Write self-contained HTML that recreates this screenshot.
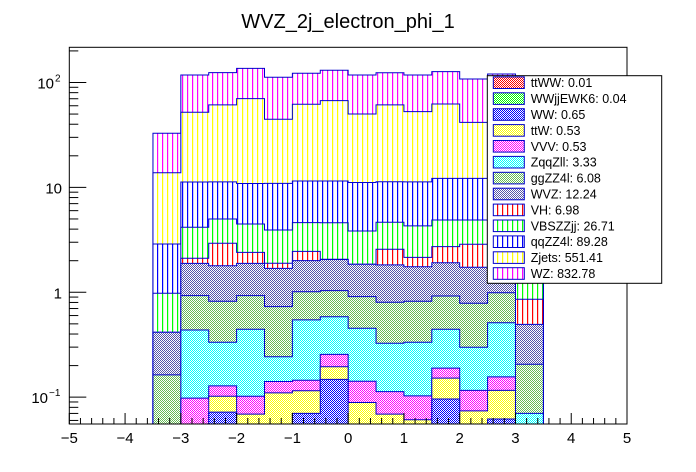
<!DOCTYPE html>
<html><head><meta charset="utf-8"><style>
html,body{margin:0;padding:0;background:#fff;}
svg{display:block;font-family:"Liberation Sans",Arial,sans-serif;}
</style></head><body>
<svg id="chart" width="696" height="472" viewBox="0 0 696 472">
<defs>
<pattern id="chk-red" width="2" height="2" patternUnits="userSpaceOnUse"><rect width="2" height="2" fill="#fff"/><rect width="1" height="1" fill="#ff0000"/><rect x="1" y="1" width="1" height="1" fill="#ff0000"/></pattern>
<pattern id="chk-green" width="2" height="2" patternUnits="userSpaceOnUse"><rect width="2" height="2" fill="#fff"/><rect width="1" height="1" fill="#00ff00"/><rect x="1" y="1" width="1" height="1" fill="#00ff00"/></pattern>
<pattern id="chk-blue" width="2" height="2" patternUnits="userSpaceOnUse"><rect width="2" height="2" fill="#fff"/><rect width="1" height="1" fill="#0000ff"/><rect x="1" y="1" width="1" height="1" fill="#0000ff"/></pattern>
<pattern id="chk-yellow" width="2" height="2" patternUnits="userSpaceOnUse"><rect width="2" height="2" fill="#fff"/><rect width="1" height="1" fill="#ffff00"/><rect x="1" y="1" width="1" height="1" fill="#ffff00"/></pattern>
<pattern id="chk-magenta" width="2" height="2" patternUnits="userSpaceOnUse"><rect width="2" height="2" fill="#fff"/><rect width="1" height="1" fill="#ff00ff"/><rect x="1" y="1" width="1" height="1" fill="#ff00ff"/></pattern>
<pattern id="chk-cyan" width="2" height="2" patternUnits="userSpaceOnUse"><rect width="2" height="2" fill="#fff"/><rect width="1" height="1" fill="#00ffff"/><rect x="1" y="1" width="1" height="1" fill="#00ffff"/></pattern>
<pattern id="chk-ltgreen" width="2" height="2" patternUnits="userSpaceOnUse"><rect width="2" height="2" fill="#fff"/><rect width="1" height="1" fill="#66bb55"/><rect x="1" y="1" width="1" height="1" fill="#66bb55"/></pattern>
<pattern id="chk-violet" width="2" height="2" patternUnits="userSpaceOnUse"><rect width="2" height="2" fill="#fff"/><rect width="1" height="1" fill="#5555aa"/><rect x="1" y="1" width="1" height="1" fill="#5555aa"/></pattern>
<pattern id="vl-red" width="5" height="5" patternUnits="userSpaceOnUse"><rect width="5" height="5" fill="#fff"/><rect x="2" width="1.2" height="5" fill="#ff0000"/></pattern>
<pattern id="vl-green" width="5" height="5" patternUnits="userSpaceOnUse"><rect width="5" height="5" fill="#fff"/><rect x="2" width="1.2" height="5" fill="#00ff00"/></pattern>
<pattern id="vl-blue" width="5" height="5" patternUnits="userSpaceOnUse"><rect width="5" height="5" fill="#fff"/><rect x="2" width="1.2" height="5" fill="#0000ff"/></pattern>
<pattern id="vl-yellow" width="5" height="5" patternUnits="userSpaceOnUse"><rect width="5" height="5" fill="#fff"/><rect x="2" width="1.2" height="5" fill="#ffff00"/></pattern>
<pattern id="vl-magenta" width="5" height="5" patternUnits="userSpaceOnUse"><rect width="5" height="5" fill="#fff"/><rect x="2" width="1.2" height="5" fill="#ff00ff"/></pattern>
<clipPath id="plotclip"><rect x="69.3" y="47.3" width="557.7" height="376.7"/></clipPath>
</defs>
<text x="348" y="28" font-size="20" text-anchor="middle">WVZ_2j_electron_phi_1</text>
<g id="bars" clip-path="url(#plotclip)"></g>
<g id="axes"></g>
<g id="legend"></g>
</svg>
<script>
// ---- data ----
const binEdges = [-3.5,-3,-2.5,-2,-1.5,-1,-0.5,0,0.5,1,1.5,2,2.5,3,3.5];
const layerNames = ["ttWW","WWjjEWK6","WW","ttW","VVV","ZqqZll","ggZZ4l","WVZ","VH","VBSZZjj","qqZZ4l","Zjets","WZ"];
const legendLabels = ["ttWW: 0.01","WWjjEWK6: 0.04","WW: 0.65","ttW: 0.53","VVV: 0.53","ZqqZll: 3.33","ggZZ4l: 6.08","WVZ: 12.24","VH: 6.98","VBSZZjj: 26.71","qqZZ4l: 89.28","Zjets: 551.41","WZ: 832.78"];
const ttWW     = [0,0,0,0,0,0,0,0,0,0,0,0,0,0];
const WWjjEWK6 = [0,0,0,0,0,0,0,0,0,0,0,0,0,0];
const WW       = [0,0,0.072,0,0,0.070,0.148,0,0,0,0.096,0,0.062,0];
const ttW      = [0,0,0.030,0.069,0.110,0.045,0.047,0.089,0.069,0.061,0.056,0.074,0.054,0];
const VVV      = [0,0.098,0.026,0.033,0.031,0.030,0.061,0.053,0.044,0.042,0.037,0.042,0.040,0];
const ZqqZll   = [0,0.339,0.206,0.342,0.102,0.40,0.329,0.312,0.214,0.231,0.255,0.183,0.357,0.070];
const ggZZ4l   = [0.163,0.491,0.487,0.484,0.486,0.468,0.451,0.454,0.476,0.487,0.478,0.486,0.477,0.136];
const WVZ      = [0.253,0.96,0.97,0.96,0.96,0.99,1.02,0.94,1.02,0.93,0.99,0.945,1.0,0.289];
const VH       = [0,0.22,1.14,0.51,0.20,0.45,0.01,0,0.75,0.40,0.81,1.14,0.54,0.363];
const VBSZZjj  = [0.562,2.06,2.07,2.08,2.03,2.16,2.54,1.99,2.08,2.14,2.17,2.02,2.15,0.43];
const qqZZ4l   = [1.91,7.1,6.3,6.4,7.0,6.9,6.9,7.3,6.65,7.0,7.3,7.3,7.1,2.7];
const Zjets    = [10.9,40.7,49.8,59.2,33.7,50.5,55.6,39.0,49.8,41.4,50.2,29.5,49.3,11];
const WZ       = [19.0,65.9,63,66.4,67.5,60.4,63.6,67.8,62.9,65.2,64.4,66.3,59.4,20];
const xTicks = [-5,-4,-3,-2,-1,0,1,2,3,4,5];
const yTickLabels = [{v:0.1,t:"10",e:"\u22121"},{v:1,t:"1",e:""},{v:10,t:"10",e:""},{v:100,t:"10",e:"2"}];

const series = [ttWW,WWjjEWK6,WW,ttW,VVV,ZqqZll,ggZZ4l,WVZ,VH,VBSZZjj,qqZZ4l,Zjets,WZ];
const fills = ["chk-red","chk-green","chk-blue","chk-yellow","chk-magenta","chk-cyan","chk-ltgreen","chk-violet","vl-red","vl-green","vl-blue","vl-yellow","vl-magenta"];

// ---- scales ----
const X0=69.3, X1=627, Y0=47.3, Y1=424;
const xMin=-5, xMax=5, yMin=0.0555, yMax=216.5;
function xs(v){return X0+(v-xMin)/(xMax-xMin)*(X1-X0);}
function ys(v){ if(v<=yMin) return Y1+2; const y=Y1-(Math.log10(v)-Math.log10(yMin))/(Math.log10(yMax)-Math.log10(yMin))*(Y1-Y0); return Math.max(Y0-2,y);}
const NS="http://www.w3.org/2000/svg";
function mk(tag,attrs,parent){const e=document.createElementNS(NS,tag);for(const k in attrs)e.setAttribute(k,attrs[k]);parent.appendChild(e);return e;}

const cum=[];
let run=binEdges.slice(1).map(()=>0);
series.forEach((s,i)=>{run=run.map((r,j)=>r+s[j]);cum.push(run.slice());});

const bars=document.getElementById('bars');
for(let L=series.length-1;L>=0;L--){
  const c=cum[L];
  let d="M"+xs(binEdges[0])+","+(Y1+2);
  for(let j=0;j<c.length;j++){
    const y=ys(c[j]);
    d+=" L"+xs(binEdges[j])+","+y+" L"+xs(binEdges[j+1])+","+y;
  }
  d+=" L"+xs(binEdges[binEdges.length-1])+","+(Y1+2)+" Z";
  const p=mk('path',{d:d,fill:"url(#"+fills[L]+")",stroke:"#0000cc","stroke-width":"1"},bars);
  
  
}

const ax=document.getElementById('axes');
const frame=mk('rect',{x:X0,y:Y0,width:X1-X0,height:Y1-Y0,fill:"none",stroke:"#000","stroke-width":"1"},ax);


for(let v=-5;v<=5.0001;v+=0.2){
  const major=Math.abs(v-Math.round(v))<1e-6;
  const x=xs(v);
  const t=mk('line',{x1:x,x2:x,y1:Y1,y2:Y1-(major?11:6),stroke:"#000","stroke-width":"1"},ax);
  
  
}
xTicks.forEach(v=>{
  const t=mk('text',{x:xs(v),y:Y1+19,"font-size":"15","text-anchor":"middle"},ax);
  t.textContent=(v<0?"\u2212"+(-v):String(v));
  
  
});
for(let dec=-2;dec<=2;dec++){
  for(let m=1;m<=9;m++){
    const v=m*Math.pow(10,dec);
    if(v<yMin||v>yMax) continue;
    const y=ys(v);
    const t=mk('line',{x1:X0,x2:X0+(m===1?17:9),y1:y,y2:y,stroke:"#000","stroke-width":"1"},ax);
    
    
  }
}
yTickLabels.forEach(o=>{
  const y=ys(o.v);
  const t=mk('text',{x:o.e?(o.e.length>1?48:54):62,y:y+6,"font-size":"15","text-anchor":"end"},ax);
  t.textContent=o.t;
  
  
  if(o.e){
    const s=mk('text',{x:o.e.length>1?49:55,y:y-1,"font-size":"10","text-anchor":"start"},ax);
    s.textContent=o.e;
    
    
  }
});

const lg=document.getElementById('legend');
const box=mk('rect',{x:487.3,y:75.7,width:174.4,height:207.6,fill:"#fff",stroke:"#000","stroke-width":"1"},lg);


legendLabels.forEach((lab,i)=>{
  const cy=82.7+i*15.9;
  const g=mk('g',{},lg);
  
  
  mk('rect',{x:493.3,y:cy-5.8,width:31,height:11.6,fill:"url(#"+fills[i]+")",stroke:"#0000cc","stroke-width":"1"},g);
  const t=mk('text',{x:530.7,y:cy+4.5,"font-size":"12.5"},g);
  t.textContent=lab;
});
</script>
</body></html>
